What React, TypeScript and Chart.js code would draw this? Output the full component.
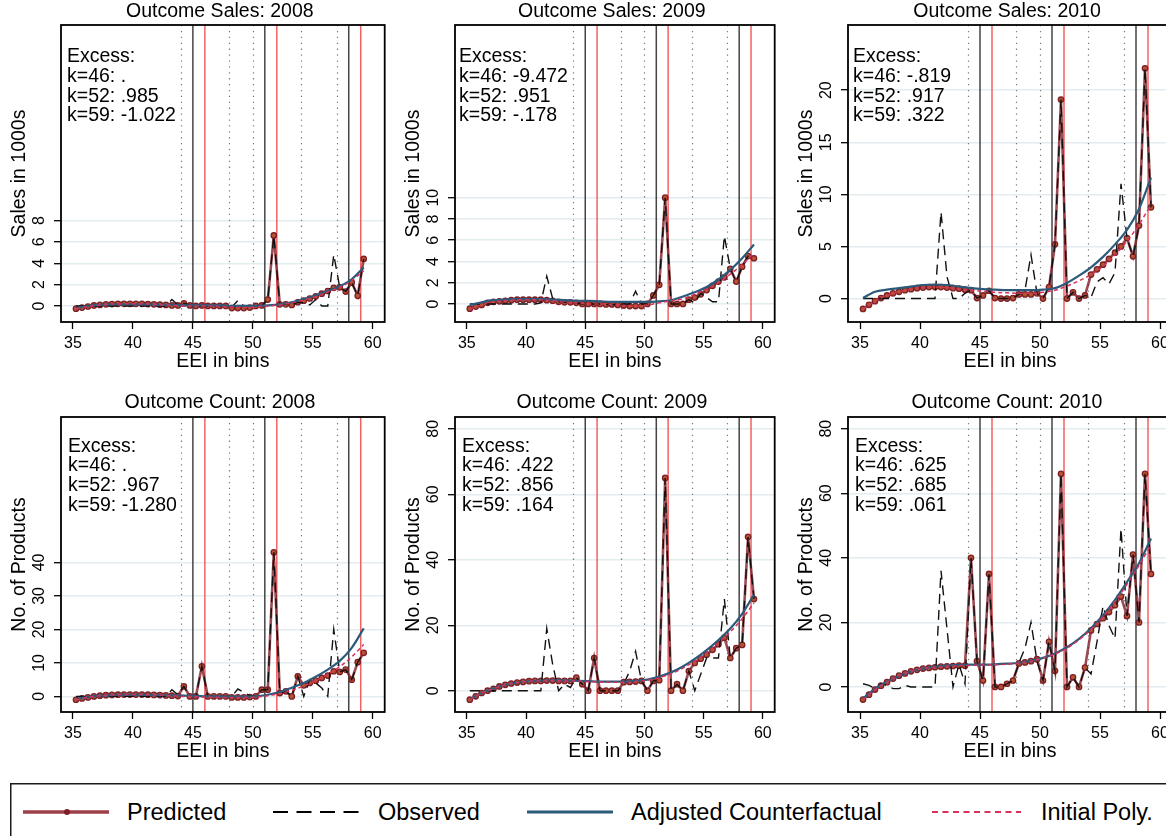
import React, { useEffect, useRef } from 'react';
import { Chart, registerables } from 'chart.js';
Chart.register(...registerables);

// ---------- data ----------
const binX = [35.25, 35.75, 36.25, 36.75, 37.25, 37.75, 38.25, 38.75, 39.25, 39.75, 40.25, 40.75, 41.25, 41.75, 42.25, 42.75, 43.25, 43.75, 44.25, 44.75, 45.25, 45.75, 46.25, 46.75, 47.25, 47.75, 48.25, 48.75, 49.25, 49.75, 50.25, 50.75, 51.25, 51.75, 52.25, 52.75, 53.25, 53.75, 54.25, 54.75, 55.25, 55.75, 56.25, 56.75, 57.25, 57.75, 58.25, 58.75, 59.25];
const curveX = [35.25, 36.25, 37.25, 38.25, 39.25, 40.25, 41.25, 42.25, 43.25, 44.25, 45.25, 46.25, 47.25, 48.25, 49.25, 50.25, 51.25, 52.25, 53.25, 54.25, 55.25, 56.25, 57.25, 58.25, 59.25];
const xTicks = [35, 40, 45, 50, 55, 60];
const dottedLines = [44, 48, 50, 54, 57];
const boundaryLines = [45, 51, 58];
const thresholdLines = [46, 52, 59];

// Sales 2008
const salesPred2008 = [-0.25, -0.15, -0.05, 0.05, 0.1, 0.15, 0.18, 0.2, 0.2, 0.2, 0.2, 0.2, 0.18, 0.15, 0.12, 0.1, 0.05, 0.05, 0.25, 0.05, 0.0, 0.05, 0.0, 0.0, 0.0, 0.0, -0.2, -0.2, -0.2, -0.15, 0.0, 0.05, 0.6, 6.6, 0.15, 0.15, 0.1, 0.35, 0.5, 0.7, 0.9, 1.15, 1.4, 1.7, 1.75, 1.35, 2.2, 0.95, 4.4];
const salesObs2008 = [0, 0, 0, 0, 0, 0, 0, 0, 0, 0, 0, 0, 0, 0, 0, 0, 0.6, 0.1, 0.25, 0.05, 0.0, 0.05, 0.0, 0.0, 0.0, 0.0, -0.1, 0.5, 0.0, 0.0, 0.0, 0.05, 0.6, 6.6, 0.15, 0.15, 0.1, 0.35, 0.3, 0.1, 0.6, 0.0, 0.0, 4.8, 1.75, 1.35, 2.2, 0.95, 4.4];
const salesCf2008 = [-0.2, 0.0, 0.1, 0.15, 0.15, 0.15, 0.15, 0.1, 0.1, 0.05, 0.05, 0.05, 0.05, 0.0, 0.0, 0.0, 0.05, 0.15, 0.35, 0.65, 1.0, 1.4, 1.85, 2.5, 3.6];
const salesPoly2008 = [-0.25, -0.05, 0.1, 0.18, 0.2, 0.2, 0.18, 0.12, 0.05, 0.0, 0.0, 0.0, -0.05, -0.1, -0.15, -0.1, 0.0, 0.1, 0.3, 0.55, 0.9, 1.3, 1.75, 2.4, 3.3];
const salesTicks2008 = [0, 2, 4, 6, 8];

// Sales 2009
const salesPred2009 = [-0.45, -0.25, -0.1, 0.1, 0.2, 0.25, 0.3, 0.35, 0.4, 0.4, 0.4, 0.4, 0.4, 0.35, 0.3, 0.2, 0.15, 0.15, 0.1, 0.0, 0.0, 0.0, 0.0, -0.05, -0.05, -0.1, -0.15, -0.2, -0.2, -0.2, 0.0, 0.8, 1.8, 10.0, 0.0, 0.0, 0.0, 0.4, 0.6, 0.9, 1.3, 1.7, 2.1, 2.5, 3.3, 2.1, 3.5, 4.5, 4.3];
const salesObs2009 = [0, 0, 0, 0, 0, 0, 0, 0, 0, 0, 0, 0, 0.1, 2.6, 0.5, 0.2, 0.15, 0.15, 0.1, 0.0, 0.0, 0.0, 0.0, -0.05, -0.05, -0.1, 0.0, 0.0, 1.2, 0.0, 0.0, 0.8, 1.8, 10.0, 0.0, 0.0, 0.0, 0.4, 0.1, 1.0, 0.6, 0.2, 0.2, 6.4, 3.3, 2.1, 3.5, 4.5, 4.3];
const salesCf2009 = [-0.1, 0.15, 0.35, 0.4, 0.45, 0.45, 0.45, 0.4, 0.35, 0.3, 0.3, 0.25, 0.2, 0.2, 0.2, 0.2, 0.25, 0.35, 0.7, 1.1, 1.6, 2.3, 3.2, 4.3, 5.6];
const salesPoly2009 = [-0.45, -0.1, 0.2, 0.3, 0.4, 0.4, 0.4, 0.3, 0.15, 0.1, 0.0, 0.0, -0.05, -0.15, -0.2, -0.1, 0.1, 0.3, 0.5, 0.9, 1.4, 2.0, 2.8, 3.7, 4.8];
const salesTicks2009 = [0, 2, 4, 6, 8, 10];

// Sales 2010
const salesPred2010 = [-1.0, -0.6, -0.25, 0.05, 0.3, 0.5, 0.65, 0.8, 0.9, 1.0, 1.05, 1.1, 1.1, 1.1, 1.05, 1.0, 0.95, 0.85, 0.8, 0.05, 0.3, 0.75, 0.05, 0.0, 0.0, 0.05, 0.4, 0.4, 0.4, 0.5, 0.0, 1.1, 5.2, 19.1, 0.0, 0.6, 0.0, 0.3, 2.3, 2.8, 3.25, 3.8, 4.4, 5.0, 5.8, 4.05, 7.0, 22.1, 8.75];
const salesObs2010 = [0, 0, 0, 0, 0, 0, 0, 0, 0, 0, 0, 0, 0, 8.3, 2.1, 0, 0, 0.5, 0.8, 0.05, 0.3, 0.75, 0.05, 0.0, 0.0, 0.05, 0.4, 0.8, 4.2, 0.5, 0.0, 1.1, 5.2, 19.1, 0.0, 0.6, 0.0, 0.3, 0.1, 1.6, 2.0, 1.4, 2.5, 11.0, 5.8, 4.05, 7.0, 22.1, 8.75];
const salesCf2010 = [0.05, 0.65, 0.85, 1.0, 1.15, 1.3, 1.35, 1.3, 1.15, 1.0, 0.9, 0.85, 0.8, 0.8, 0.8, 0.85, 1.0, 1.5, 2.2, 3.0, 4.0, 5.2, 6.6, 8.6, 11.6];
const salesPoly2010 = [-1.0, -0.25, 0.3, 0.65, 0.9, 1.05, 1.1, 1.05, 0.95, 0.8, 0.7, 0.6, 0.55, 0.5, 0.5, 0.6, 0.8, 1.2, 1.7, 2.3, 3.1, 4.2, 5.5, 7.1, 9.0];
const salesTicks2010 = [0, 5, 10, 15, 20];

// Count 2008
const countPred2008 = [-1.0, -0.6, -0.3, 0.0, 0.2, 0.35, 0.45, 0.5, 0.55, 0.55, 0.55, 0.55, 0.5, 0.45, 0.4, 0.3, 0.2, 0.1, 3.0, 0.0, 0.0, 9.0, 0.0, 0.0, 0.0, 0.0, -0.3, -0.3, -0.3, -0.2, 0.0, 2.0, 2.0, 43.0, 1.0, 1.5, 0.0, 6.0, 3.3, 4.0, 4.7, 5.5, 6.2, 7.5, 7.3, 8.0, 5.0, 10.2, 13.0];
const countObs2008 = [0, 0, 0, 0, 0, 0, 0, 0, 0, 0, 0, 0, 0, 0, 0, 0, 2.0, 0.5, 3.0, 0.0, 0.0, 9.0, 0.0, 0.0, 0.0, 0.0, 0.0, 2.2, 1.2, 0.2, 0.0, 2.0, 2.0, 43.0, 1.0, 1.5, 0.0, 6.0, 0.0, 5.0, 4.0, 2.5, 0.0, 20.0, 7.3, 8.0, 5.0, 10.2, 13.0];
const countCf2008 = [-0.8, -0.2, 0.2, 0.4, 0.5, 0.5, 0.45, 0.4, 0.3, 0.2, 0.1, 0.0, 0.0, -0.1, -0.1, 0.0, 0.5, 1.3, 2.6, 4.0, 5.9, 8.0, 10.6, 14.5, 20.3];
const countPoly2008 = [-1.0, -0.3, 0.2, 0.45, 0.55, 0.55, 0.5, 0.4, 0.2, 0.0, -0.1, -0.2, -0.3, -0.3, -0.3, -0.2, 0.2, 0.8, 1.8, 3.1, 4.7, 6.6, 8.9, 11.8, 15.5];
const countTicks2008 = [0, 10, 20, 30, 40];

// Count 2009
const countPred2009 = [-2.75, -1.7, -0.7, 0.0, 0.6, 1.3, 1.8, 2.2, 2.5, 2.7, 2.9, 3.0, 3.0, 3.1, 3.1, 3.0, 3.0, 3.0, 4.0, 2.0, 0.0, 10.0, 0.0, 0.0, 0.0, 0.0, 2.6, 2.7, 2.8, 3.0, 0.0, 3.0, 3.2, 65.0, 0.0, 2.0, 0.0, 6.0, 8.5, 9.8, 11.0, 12.5, 14.2, 16.2, 10.0, 13.0, 14.0, 47.0, 28.0];
const countObs2009 = [0, 0, 0, 0, 0, 0, 0, 0, 0, 0, 0, 0, 0, 19.0, 8.0, 0.0, 2.0, 1.0, 4.0, 2.0, 0.0, 10.0, 0.0, 0.0, 0.0, 0.0, 2.0, 6.0, 12.0, 3.0, 0.0, 3.0, 3.2, 65.0, 0.0, 2.0, 0.0, 6.0, 0.0, 5.0, 10.0, 10.0, 10.0, 28.0, 10.0, 13.0, 14.0, 47.0, 28.0];
const countCf2009 = [-2.7, -0.7, 0.7, 1.8, 2.5, 2.9, 3.1, 3.2, 3.1, 3.0, 2.9, 2.8, 2.8, 2.8, 3.0, 3.4, 4.3, 5.6, 7.4, 9.7, 12.4, 15.5, 19.0, 23.5, 29.3];
const countPoly2009 = [-2.75, -0.7, 0.6, 1.8, 2.5, 2.9, 3.0, 3.1, 3.0, 3.0, 2.8, 2.7, 2.6, 2.6, 2.8, 3.2, 4.0, 5.2, 6.9, 9.0, 11.6, 14.6, 18.0, 22.0, 26.8];
const countTicks2009 = [0, 20, 40, 60, 80];

// Count 2010
const countPred2010 = [-3.9, -2.4, -0.8, 0.4, 1.5, 2.6, 3.5, 4.2, 4.85, 5.3, 5.7, 5.9, 6.1, 6.3, 6.4, 6.5, 6.6, 6.6, 40.0, 8.0, 2.0, 35.0, 0.0, 0.0, 1.0, 2.0, 7.3, 7.6, 8.0, 8.6, 2.0, 14.0, 5.0, 66.0, 0.0, 3.0, 0.0, 6.0, 17.5, 19.5, 21.3, 23.2, 25.3, 28.0, 22.0, 41.0, 20.0, 66.0, 35.0];
const countObs2010 = [1.0, 0.5, -0.5, 1.0, 0.5, -0.5, -0.5, 0.5, 0, 0, 0, 0, 0, 36.0, 18.0, 0.0, 7.0, 1.0, 40.0, 8.0, 2.0, 35.0, 0.0, 0.0, 1.0, 2.0, 7.5, 12.0, 20.0, 8.0, 2.0, 14.0, 5.0, 66.0, 0.0, 3.0, 0.0, 6.0, 4.0, 14.0, 25.0, 19.0, 15.0, 49.0, 22.0, 41.0, 20.0, 66.0, 35.0];
const countCf2010 = [-3.5, -0.6, 1.6, 3.4, 4.8, 5.7, 6.3, 6.6, 6.8, 6.9, 6.9, 7.0, 7.2, 7.5, 8.1, 9.0, 10.4, 12.3, 14.9, 18.2, 22.2, 27.0, 32.5, 38.3, 46.0];
const countPoly2010 = [-3.9, -0.8, 1.5, 3.5, 4.85, 5.7, 6.1, 6.4, 6.6, 6.7, 6.8, 6.9, 7.1, 7.4, 8.0, 8.9, 10.2, 12.0, 14.6, 17.8, 21.7, 26.4, 31.8, 37.6, 44.0];
const countTicks2010 = [0, 20, 40, 60, 80];

const excessSales2008 = ['Excess:', 'k=46: .', 'k=52: .985', 'k=59: -1.022'];
const excessSales2009 = ['Excess:', 'k=46: -9.472', 'k=52: .951', 'k=59: -.178'];
const excessSales2010 = ['Excess:', 'k=46: -.819', 'k=52: .917', 'k=59: .322'];
const excessCount2008 = ['Excess:', 'k=46: .', 'k=52: .967', 'k=59: -1.280'];
const excessCount2009 = ['Excess:', 'k=46: .422', 'k=52: .856', 'k=59: .164'];
const excessCount2010 = ['Excess:', 'k=46: .625', 'k=52: .685', 'k=59: .061'];

// ---------- layout / style ----------
const FONT = "'Liberation Sans', Arial, sans-serif";
const colLeft = [0, 390, 780];
const canvasW = [390, 390, 400];
const plotLeft = [61, 65, 68];
const PLOT_W = 324;
const rowTop = [0, 385];
const CANVAS_H = 385;
const plotTop = [25, 32];
const plotBottom = [322, 327];
const titleGap = [13.3, 14.5];
const textTopGap = [31.7, 29.3];

const C_PRED = 'rgba(130,30,40,0.8)';
const C_PRED_PT = '#7d1f28';
const C_PRED_FILL = '#b5542f';
const C_OBS = '#111111';
const C_CF = '#2b5a7b';
const C_POLY = '#d8315b';

type PanelCfg = {
  title: string; yTitle: string; pred: number[]; obs: number[]; cf: number[]; poly: number[];
  yTicks: number[]; yMin: number; yMax: number; excess: string[]; col: number; row: number; textDx: number;
};

const panels: PanelCfg[] = [
  { title: 'Outcome Sales: 2008', yTitle: 'Sales in 1000s', pred: salesPred2008, obs: salesObs2008, cf: salesCf2008, poly: salesPoly2008, yTicks: salesTicks2008, yMin: -1.5, yMax: 26.3, excess: excessSales2008, col: 0, row: 0, textDx: 6 },
  { title: 'Outcome Sales: 2009', yTitle: 'Sales in 1000s', pred: salesPred2009, obs: salesObs2009, cf: salesCf2009, poly: salesPoly2009, yTicks: salesTicks2009, yMin: -1.7, yMax: 26.25, excess: excessSales2009, col: 1, row: 0, textDx: 4 },
  { title: 'Outcome Sales: 2010', yTitle: 'Sales in 1000s', pred: salesPred2010, obs: salesObs2010, cf: salesCf2010, poly: salesPoly2010, yTicks: salesTicks2010, yMin: -2.25, yMax: 26.25, excess: excessSales2010, col: 2, row: 0, textDx: 5 },
  { title: 'Outcome Count: 2008', yTitle: 'No. of Products', pred: countPred2008, obs: countObs2008, cf: countCf2008, poly: countPoly2008, yTicks: countTicks2008, yMin: -4.66, yMax: 83.4, excess: excessCount2008, col: 0, row: 1, textDx: 7 },
  { title: 'Outcome Count: 2009', yTitle: 'No. of Products', pred: countPred2009, obs: countObs2009, cf: countCf2009, poly: countPoly2009, yTicks: countTicks2009, yMin: -6.5, yMax: 83.6, excess: excessCount2009, col: 1, row: 1, textDx: 7 },
  { title: 'Outcome Count: 2010', yTitle: 'No. of Products', pred: countPred2010, obs: countObs2010, cf: countCf2010, poly: countPoly2010, yTicks: countTicks2010, yMin: -7.75, yMax: 83.6, excess: excessCount2010, col: 2, row: 1, textDx: 7 },
];

function makeDeco(p: PanelCfg) {
  return {
    id: 'deco' + p.col + p.row,
    beforeDatasetsDraw(chart: any) {
      const { ctx, chartArea: a, scales } = chart;
      const x = scales.x;
      ctx.save();
      ctx.beginPath();
      ctx.rect(a.left, a.top, a.right - a.left, a.bottom - a.top);
      ctx.clip();
      ctx.lineWidth = 1.2;
      ctx.strokeStyle = '#7a7a7a';
      ctx.setLineDash([1.3, 4.6]);
      dottedLines.forEach((v) => {
        const px = Math.round(x.getPixelForValue(v)) + 0.5;
        ctx.beginPath(); ctx.moveTo(px, a.top); ctx.lineTo(px, a.bottom); ctx.stroke();
      });
      ctx.setLineDash([]);
      ctx.lineWidth = 1.5;
      ctx.strokeStyle = 'rgba(35,35,35,0.85)';
      boundaryLines.forEach((v) => {
        const px = x.getPixelForValue(v);
        ctx.beginPath(); ctx.moveTo(px, a.top); ctx.lineTo(px, a.bottom); ctx.stroke();
      });
      ctx.strokeStyle = 'rgba(240,70,70,0.85)';
      thresholdLines.forEach((v) => {
        const px = x.getPixelForValue(v);
        ctx.beginPath(); ctx.moveTo(px, a.top); ctx.lineTo(px, a.bottom); ctx.stroke();
      });
      ctx.restore();
    },
    afterDraw(chart: any) {
      const { ctx, chartArea: a, scales } = chart;
      const x = scales.x; const y = scales.y;
      ctx.save();
      ctx.fillStyle = '#000';
      ctx.strokeStyle = '#000';
      ctx.lineWidth = 1.8;
      ctx.strokeRect(a.left, a.top, a.right - a.left, a.bottom - a.top);
      const cx = (a.left + a.right) / 2;
      ctx.font = `19.5px ${FONT}`;
      ctx.textAlign = 'center';
      ctx.textBaseline = 'middle';
      ctx.fillText(p.title, cx - 3, a.top - titleGap[p.row]);
      ctx.fillText('EEI in bins', cx, a.bottom + 39.5);
      ctx.textAlign = 'left';
      p.excess.forEach((t, i) => {
        ctx.fillText(t, a.left + p.textDx, a.top + textTopGap[p.row] + i * 19.8);
      });
      ctx.save();
      ctx.translate(a.left - 41, (a.top + a.bottom) / 2);
      ctx.rotate(-Math.PI / 2);
      ctx.textAlign = 'center';
      ctx.fillText(p.yTitle, 0, 0);
      ctx.restore();
      ctx.font = `16px ${FONT}`;
      ctx.textAlign = 'center';
      xTicks.forEach((v) => {
        ctx.fillText(String(v), x.getPixelForValue(v), a.bottom + 21.5);
      });
      p.yTicks.forEach((v) => {
        ctx.save();
        ctx.translate(a.left - 21, y.getPixelForValue(v));
        ctx.rotate(-Math.PI / 2);
        ctx.textAlign = 'center';
        ctx.fillText(String(v), 0, 0);
        ctx.restore();
      });
      ctx.restore();
    },
  };
}

function Panel({ p }: { p: PanelCfg }) {
  const ref = useRef<HTMLCanvasElement>(null);
  useEffect(() => {
    if (!ref.current) return;
    const W = canvasW[p.col];
    const L = plotLeft[p.col];
    const T = plotTop[p.row];
    const B = plotBottom[p.row];
    const chart = new Chart(ref.current, {
      type: 'line',
      data: {
        datasets: [
          {
            label: 'Initial Poly.',
            data: curveX.map((xv, i) => ({ x: xv, y: p.poly[i] })),
            borderColor: C_POLY, borderDash: [4, 3], borderWidth: 1.5,
            pointRadius: 0, cubicInterpolationMode: 'monotone', fill: false,
          },
          {
            label: 'Adjusted Counterfactual',
            data: curveX.map((xv, i) => ({ x: xv, y: p.cf[i] })),
            borderColor: C_CF, borderWidth: 2.2,
            pointRadius: 0, cubicInterpolationMode: 'monotone', fill: false,
          },
          {
            label: 'Observed',
            data: binX.map((xv, i) => ({ x: xv, y: p.obs[i] })),
            borderColor: C_OBS, borderDash: [10, 6], borderWidth: 1.4,
            pointRadius: 0, fill: false,
          },
          {
            label: 'Predicted',
            data: binX.map((xv, i) => ({ x: xv, y: p.pred[i] })),
            borderColor: C_PRED, borderWidth: 2.6,
            pointRadius: 2.7, pointBackgroundColor: C_PRED_FILL, pointBorderColor: C_PRED_PT, pointBorderWidth: 1.3,
            fill: false,
          },
        ] as any,
      },
      options: {
        responsive: false,
        animation: false,
        devicePixelRatio: 1,
        events: [],
        layout: { padding: { left: 0, top: T, right: W - (L + PLOT_W), bottom: 0 } },
        plugins: { legend: { display: false }, tooltip: { enabled: false }, title: { display: false } },
        scales: {
          x: {
            type: 'linear', min: 34, max: 61,
            afterBuildTicks: (s: any) => { s.ticks = xTicks.map((v) => ({ value: v })); },
            afterFit: (s: any) => { s.height = CANVAS_H - B; },
            ticks: { display: false },
            grid: { drawOnChartArea: false, drawTicks: true, tickLength: 7, tickColor: '#000', tickWidth: 1.3 },
            border: { display: false },
          },
          y: {
            type: 'linear', min: p.yMin, max: p.yMax,
            afterBuildTicks: (s: any) => { s.ticks = p.yTicks.map((v) => ({ value: v })); },
            afterFit: (s: any) => { s.width = L; },
            ticks: { display: false },
            grid: { color: '#e3ecef', lineWidth: 1.4, drawTicks: true, tickLength: 7, tickColor: '#000', tickWidth: 1.3 },
            border: { display: false },
          },
        },
      } as any,
      plugins: [makeDeco(p)],
    });
    return () => chart.destroy();
  }, [p]);
  return (
    <canvas
      ref={ref}
      width={canvasW[p.col]}
      height={CANVAS_H}
      style={{ position: 'absolute', left: colLeft[p.col], top: rowTop[p.row], width: canvasW[p.col], height: CANVAS_H, display: 'block' }}
    />
  );
}

function Legend() {
  const ty = 29;
  const txt = { fontFamily: FONT, fontSize: 23.5, fill: '#000' } as any;
  return (
    <svg style={{ position: 'absolute', left: 0, top: 783 }} width={1166} height={53}>
      <rect x={10.75} y={0.75} width={1200} height={100} fill="none" stroke="#1a1a1a" strokeWidth={1.5} />
      <line x1={23} y1={ty} x2={109} y2={ty} stroke="#9c3f47" strokeWidth={3.5} />
      <circle cx={67} cy={ty} r={3} fill={C_PRED_PT} />
      <text x={127} y={ty} dominantBaseline="central" {...txt}>Predicted</text>
      <line x1={273} y1={ty} x2={360} y2={ty} stroke="#000" strokeWidth={2} strokeDasharray="15 8.5" />
      <text x={378} y={ty} dominantBaseline="central" {...txt}>Observed</text>
      <line x1={527} y1={ty} x2={613} y2={ty} stroke={C_CF} strokeWidth={3.2} />
      <text x={631} y={ty} dominantBaseline="central" {...txt}>Adjusted Counterfactual</text>
      <line x1={932} y1={ty} x2={1021} y2={ty} stroke={C_POLY} strokeWidth={2} strokeDasharray="6 4.5" />
      <text x={1041} y={ty} dominantBaseline="central" {...txt}>Initial Poly.</text>
    </svg>
  );
}

export default function App() {
  return (
    <div style={{ position: 'fixed', left: 0, top: 0, width: 1166, height: 836, overflow: 'hidden', background: '#fff' }}>
      {panels.map((p, i) => (
        <Panel key={i} p={p} />
      ))}
      <Legend />
    </div>
  );
}
